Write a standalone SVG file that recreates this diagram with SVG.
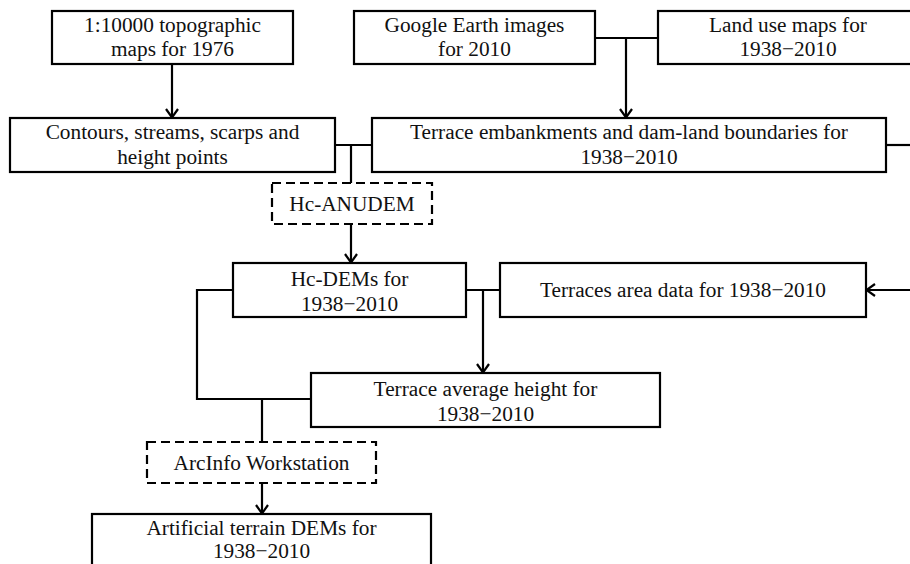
<svg xmlns="http://www.w3.org/2000/svg" width="910" height="564" viewBox="0 0 910 564">
<style>
.box{fill:#fff;stroke:#000;stroke-width:2.2}
.dash{fill:#fff;stroke:#000;stroke-width:2.2;stroke-dasharray:9,5}
.t{font-family:"Liberation Serif","Times New Roman",serif;font-size:21.3px;fill:#111;text-anchor:middle}
.c{fill:none;stroke:#000;stroke-width:2.2}
</style>
<defs>
<marker id="ah" viewBox="0 0 12 14" refX="11" refY="7" markerWidth="12" markerHeight="14" markerUnits="userSpaceOnUse" orient="auto">
<path d="M2,1 L10.5,7 L2,13" fill="none" stroke="#000" stroke-width="2.2"/>
</marker>
</defs>
<rect width="910" height="564" fill="#fff"/>
<g id="connectors">
<line class="c" x1="172" y1="64" x2="172" y2="118" marker-end="url(#ah)"/>
<line class="c" x1="595" y1="38" x2="658" y2="38"/>
<line class="c" x1="626" y1="38" x2="626" y2="118" marker-end="url(#ah)"/>
<line class="c" x1="335" y1="145" x2="372" y2="145"/>
<line class="c" x1="351" y1="145" x2="351" y2="183"/>
<line class="c" x1="886" y1="145" x2="910" y2="145"/>
<line class="c" x1="351" y1="224" x2="351" y2="263" marker-end="url(#ah)"/>
<line class="c" x1="466" y1="290" x2="500" y2="290"/>
<line class="c" x1="483" y1="290" x2="483" y2="373" marker-end="url(#ah)"/>
<line class="c" x1="910" y1="290" x2="866" y2="290" marker-end="url(#ah)"/>
<polyline class="c" points="233,290 197,290 197,399 311,399"/>
<line class="c" x1="262" y1="399" x2="262" y2="442"/>
<line class="c" x1="262" y1="483" x2="262" y2="514" marker-end="url(#ah)"/>
</g>
<g id="n-topo">
<rect class="box" x="52" y="11" width="241" height="53"/>
<text class="t" x="172.5" y="32">1:10000 topographic</text>
<text class="t" x="172.5" y="56">maps for 1976</text>
</g>
<g id="n-google">
<rect class="box" x="354" y="11" width="241" height="53"/>
<text class="t" x="474.5" y="32">Google Earth images</text>
<text class="t" x="474.5" y="56">for 2010</text>
</g>
<g id="n-landuse">
<rect class="box" x="658" y="11" width="260" height="53"/>
<text class="t" x="788" y="32">Land use maps for</text>
<text class="t" x="788" y="56">1938−2010</text>
</g>
<g id="n-contours">
<rect class="box" x="10" y="118" width="325" height="54"/>
<text class="t" x="172.5" y="139">Contours, streams, scarps and</text>
<text class="t" x="172.5" y="164">height points</text>
</g>
<g id="n-embank">
<rect class="box" x="372" y="118" width="514" height="54"/>
<text class="t" x="629" y="139">Terrace embankments and dam-land boundaries for</text>
<text class="t" x="629" y="164">1938−2010</text>
</g>
<g id="n-anudem">
<rect class="dash" x="272" y="183" width="160" height="41"/>
<text class="t" x="352" y="211">Hc-ANUDEM</text>
</g>
<g id="n-hcdem">
<rect class="box" x="233" y="263" width="233" height="54"/>
<text class="t" x="349.5" y="286">Hc-DEMs for</text>
<text class="t" x="349.5" y="311">1938−2010</text>
</g>
<g id="n-area">
<rect class="box" x="500" y="263" width="366" height="54"/>
<text class="t" x="683" y="297">Terraces area data for 1938−2010</text>
</g>
<g id="n-avgheight">
<rect class="box" x="311" y="373" width="349" height="54"/>
<text class="t" x="485.5" y="396">Terrace average height for</text>
<text class="t" x="485.5" y="421">1938−2010</text>
</g>
<g id="n-arcinfo">
<rect class="dash" x="147" y="442" width="229" height="41"/>
<text class="t" x="261.5" y="470">ArcInfo Workstation</text>
</g>
<g id="n-artificial">
<rect class="box" x="92" y="514" width="339" height="60"/>
<text class="t" x="261.5" y="535">Artificial terrain DEMs for</text>
<text class="t" x="261.5" y="558">1938−2010</text>
</g>
</svg>
